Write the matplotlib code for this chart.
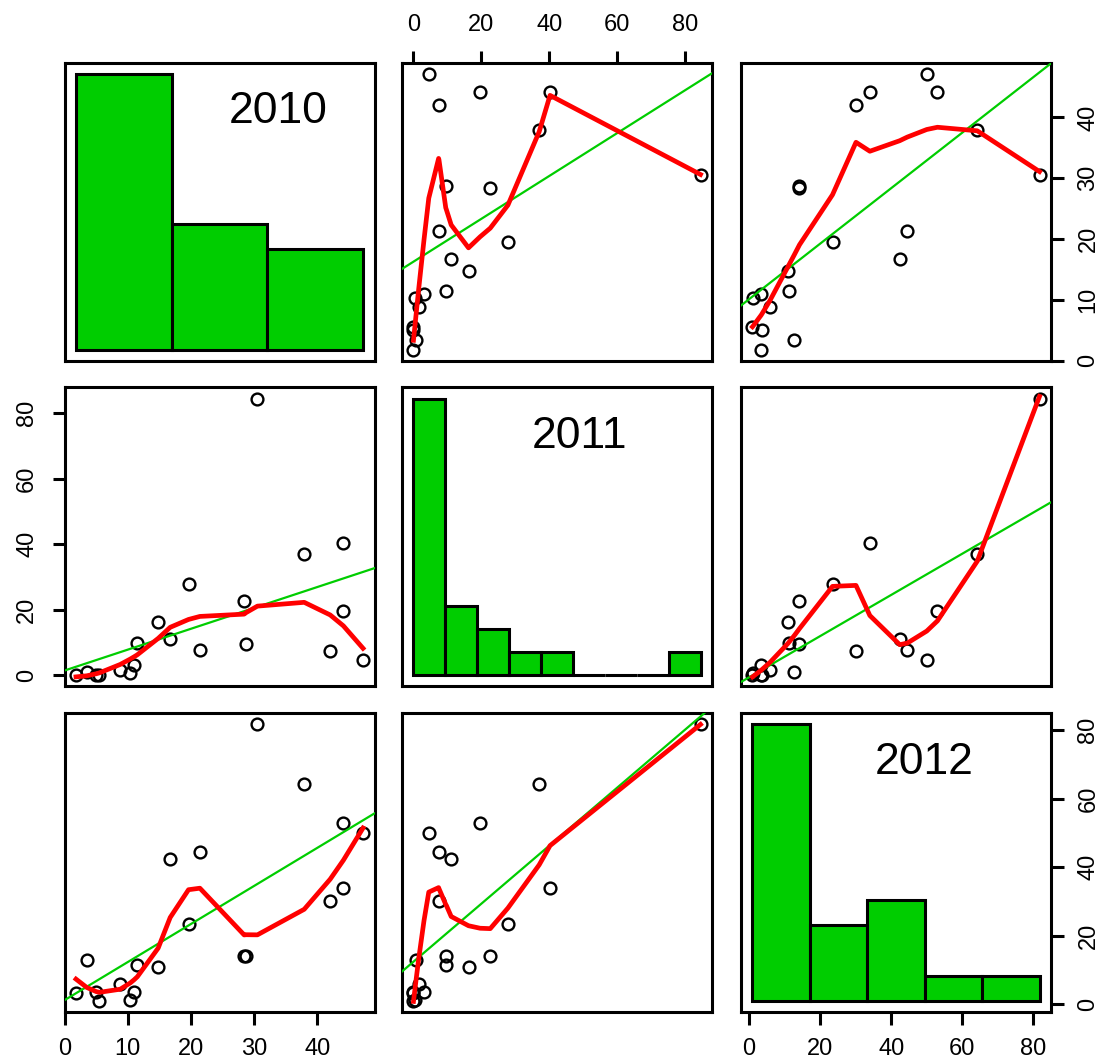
import numpy as np
import matplotlib
matplotlib.use("Agg")
import matplotlib.pyplot as plt

plt.rcParams["font.family"] = ["Liberation Sans", "DejaVu Sans"]

names = ["2010", "2011", "2012"]
v2010 = [1.8, 3.5, 5.0, 5.5, 8.8, 10.4, 11.0, 11.5, 14.8, 16.7,
         19.6, 21.4, 28.4, 28.7, 30.5, 37.9, 42.0, 44.1, 44.1, 47.2]
v2011 = [0.0, 0.8, 0.0, 0.0, 1.5, 0.5, 3.1, 9.7, 16.2, 11.1,
         27.8, 7.5, 22.6, 9.5, 84.5, 37.0, 7.4, 19.6, 40.2, 4.5]
v2012 = [3.4, 12.8, 3.6, 1.0, 5.9, 1.1, 3.5, 11.3, 10.9, 42.4,
         23.5, 44.5, 14.2, 14.1, 81.7, 64.2, 30.1, 53.0, 34.0, 50.0]
data = [np.array(v2010), np.array(v2011), np.array(v2012)]

# histogram breaks and tick marks per variable
hist_breaks = [np.arange(0, 61, 20), np.arange(0, 91, 10), np.arange(0, 101, 20)]
ticks = [np.arange(0, 41, 10), np.arange(0, 81, 20), np.arange(0, 81, 20)]
label_x = [0.69, 0.574, 0.59]

GREEN = "#00CD00"


def loess_fit(x, y, span=2/3, degree=2, iterations=4):
    # local quadratic loess, family="symmetric", evaluated at the data
    x = np.asarray(x, float)
    y = np.asarray(y, float)
    n = len(x)
    q = int(np.floor(n * span))
    rob = np.ones(n)
    fitted = np.zeros(n)
    for it in range(iterations):
        for i in range(n):
            d = np.abs(x - x[i])
            h = np.sort(d)[q - 1]
            w = np.where(d < h, (1 - (d / h) ** 3) ** 3, 0.0) * rob
            X = np.vander(x - x[i], degree + 1, increasing=True)
            sw = np.sqrt(w)
            beta = np.linalg.lstsq(X * sw[:, None], y * sw, rcond=1e-7)[0]
            fitted[i] = beta[0]
        if it < iterations - 1:
            r = np.abs(y - fitted)
            cmad = 6 * np.median(r)
            rob = np.where(r <= 0.001 * cmad, 1.0,
                           np.where(r <= 0.999 * cmad, (1 - (r / cmad) ** 2) ** 2, 0.0))
    o = np.argsort(x, kind="mergesort")
    return x[o], fitted[o]


def padded(v):
    lo, hi = np.min(v), np.max(v)
    d = 0.04 * (hi - lo)
    return lo - d, hi + d


W, H = 1107, 1063
fig = plt.figure(figsize=(W / 100, H / 100), dpi=100)

col_left = [64.5, 402, 741]
row_top = [62.5, 387.5, 713.3]
pw, ph = 310, 298.5

for r in range(3):
    for c in range(3):
        pos = [col_left[c] / W, 1 - (row_top[r] + ph) / H, pw / W, ph / H]
        ax = fig.add_axes(pos)
        ax.set_xlim(padded(data[c]))
        ax.set_ylim(padded(data[r]))
        for s in ax.spines.values():
            s.set_linewidth(2.2)

        # alternating axes like R's pairs()
        show_bottom = (r == 2 and c % 2 == 0)
        show_top = (r == 0 and c % 2 == 1)
        show_left = (c == 0 and r % 2 == 1)
        show_right = (c == 2 and r % 2 == 0)
        ax.set_xticks(ticks[c])
        ax.set_yticks(ticks[r])
        ax.tick_params(axis="both", direction="out", length=9, width=2.2,
                       labelsize=17, pad=10)
        ax.tick_params(axis="x", bottom=show_bottom, labelbottom=show_bottom,
                       top=show_top, labeltop=show_top)
        ax.tick_params(axis="y", left=show_left, labelleft=show_left,
                       right=show_right, labelright=show_right)
        for lab in ax.get_yticklabels():
            lab.set_rotation(90)
            lab.set_va("center")

        if r == c:
            hax = fig.add_axes(pos, frameon=False)
            br = hist_breaks[r]
            counts, _ = np.histogram(data[r], bins=br)
            hax.bar(br[:-1], counts, width=np.diff(br), align="edge",
                    color=GREEN, edgecolor="black", linewidth=2.2)
            hax.set_xlim(padded(br))
            hax.set_ylim(padded(np.r_[0, counts]))
            hax.set_xticks([])
            hax.set_yticks([])
            hax.text(label_x[r], 0.835, names[r], transform=hax.transAxes,
                     ha="center", va="center", fontsize=32)
        else:
            x, y = data[c], data[r]
            ax.plot(x, y, "o", ms=8.5, mfc="none", mec="black", mew=1.7, zorder=3)
            m, b = np.polyfit(x, y, 1)
            ax.axline((0, b), slope=m, color=GREEN, lw=1.6, zorder=4)
            sx, sy = loess_fit(x, y)
            ax.plot(sx, sy, color="red", lw=3.4, zorder=5)

fig.savefig("out.png", dpi=100)
